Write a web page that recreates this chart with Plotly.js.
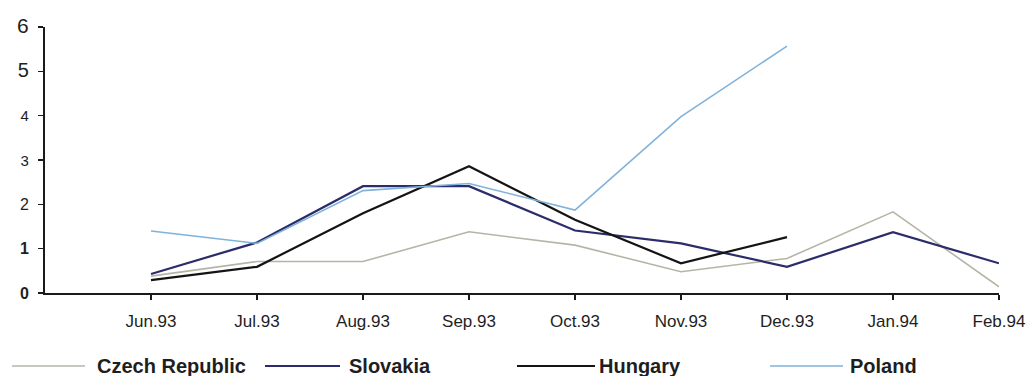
<!DOCTYPE html>
<html>
<head>
<meta charset="utf-8">
<script src="https://cdn.plot.ly/plotly-3.0.1.min.js"></script>
<style>html,body{margin:0;padding:0;background:#fff;}#chart{width:1030px;height:376px;}</style>
</head>
<body>
<div id="chart"></div>
<script>
const months = ["Jun.93","Jul.93","Aug.93","Sep.93","Oct.93","Nov.93","Dec.93","Jan.94","Feb.94"];
const czech    = [0.38, 0.71, 0.71, 1.38, 1.08, 0.48, 0.78, 1.83, 0.14];
const slovakia = [0.43, 1.14, 2.41, 2.41, 1.41, 1.12, 0.59, 1.37, 0.67];
const hungary  = [0.29, 0.59, 1.80, 2.86, 1.65, 0.67, 1.26, null, null];
const poland   = [1.40, 1.12, 2.31, 2.47, 1.87, 3.98, 5.57, null, null];
const seriesNames = ["Czech Republic","Slovakia","Hungary","Poland"];
const yTickVals = [0,1,2,3,4,5,6];
const yTickText = ['<b>0</b>','<b>1</b>','2','<span style="font-size:15px">3</span>','<span style="font-size:15px">4</span>','<span style="font-size:20px">5</span>','<span style="font-size:21px">6</span>'];

const colors = ["#b5b5a6","#2b2d6b","#141414","#80b2da"];
const widths = [1.6, 2.2, 2.2, 1.6];
const data = [czech, slovakia, hungary, poland].map((v,i)=>({
  type:'scatter', mode:'lines', x: months.map((_,k)=>k), y: v, name: seriesNames[i],
  line:{color:colors[i], width:widths[i]}, connectgaps:false, showlegend:false
}));

// custom legend
const legX = [12, 265, 517, 770];
const legLineEnd = [85, 340, 595, 843];
const legTextX = [95, 347, 597, 848];
const L = 45, W = 954, B = 293, H = 266;
const px2x = p => (p - L) / W;
const px2y = p => (B - p) / H;
const shapes = [], annotations = [];
seriesNames.forEach((n,i)=>{
  shapes.push({type:'line', xref:'paper', yref:'paper', x0:px2x(legX[i]), x1:px2x(legLineEnd[i]),
    y0:px2y(366), y1:px2y(366), line:{color:colors[i], width:widths[i]}});
  annotations.push({xref:'paper', yref:'paper', x:px2x(legTextX[i]), y:px2y(366), xanchor:'left', yanchor:'middle',
    text:'<b>'+n+'</b>', showarrow:false, font:{family:'Liberation Sans, Arial, sans-serif', size:20, color:'#1e1e1e'}});
});

const layout = {
  width:1030, height:376,
  margin:{l:45, r:31, t:27, b:83, pad:0},
  paper_bgcolor:'#fff', plot_bgcolor:'#fff',
  font:{family:'Liberation Sans, Arial, sans-serif', color:'#1e1e1e'},
  xaxis:{
    range:[-1,8], tickmode:'array', tickvals: months.map((_,k)=>k), ticktext: months,
    showgrid:false, zeroline:false, showline:true, linecolor:'#1a1a1a', linewidth:2,
    ticks:'outside', ticklen:5, tickwidth:1.5, tickcolor:'#1a1a1a',
    tickfont:{size:17, color:'#1e1e1e'}, ticklabelstandoff:7
  },
  yaxis:{
    range:[0,6], tickmode:'array', tickvals:yTickVals, ticktext:yTickText,
    showgrid:false, zeroline:false, showline:true, linecolor:'#1a1a1a', linewidth:2,
    ticks:'outside', ticklen:5, tickwidth:1.5, tickcolor:'#1a1a1a',
    tickfont:{size:16, color:'#1e1e1e'}, ticklabelstandoff:6
  },
  shapes: shapes, annotations: annotations, showlegend:false
};
Plotly.newPlot('chart', data, layout, {staticPlot:true, displayModeBar:false});
</script>
</body>
</html>
